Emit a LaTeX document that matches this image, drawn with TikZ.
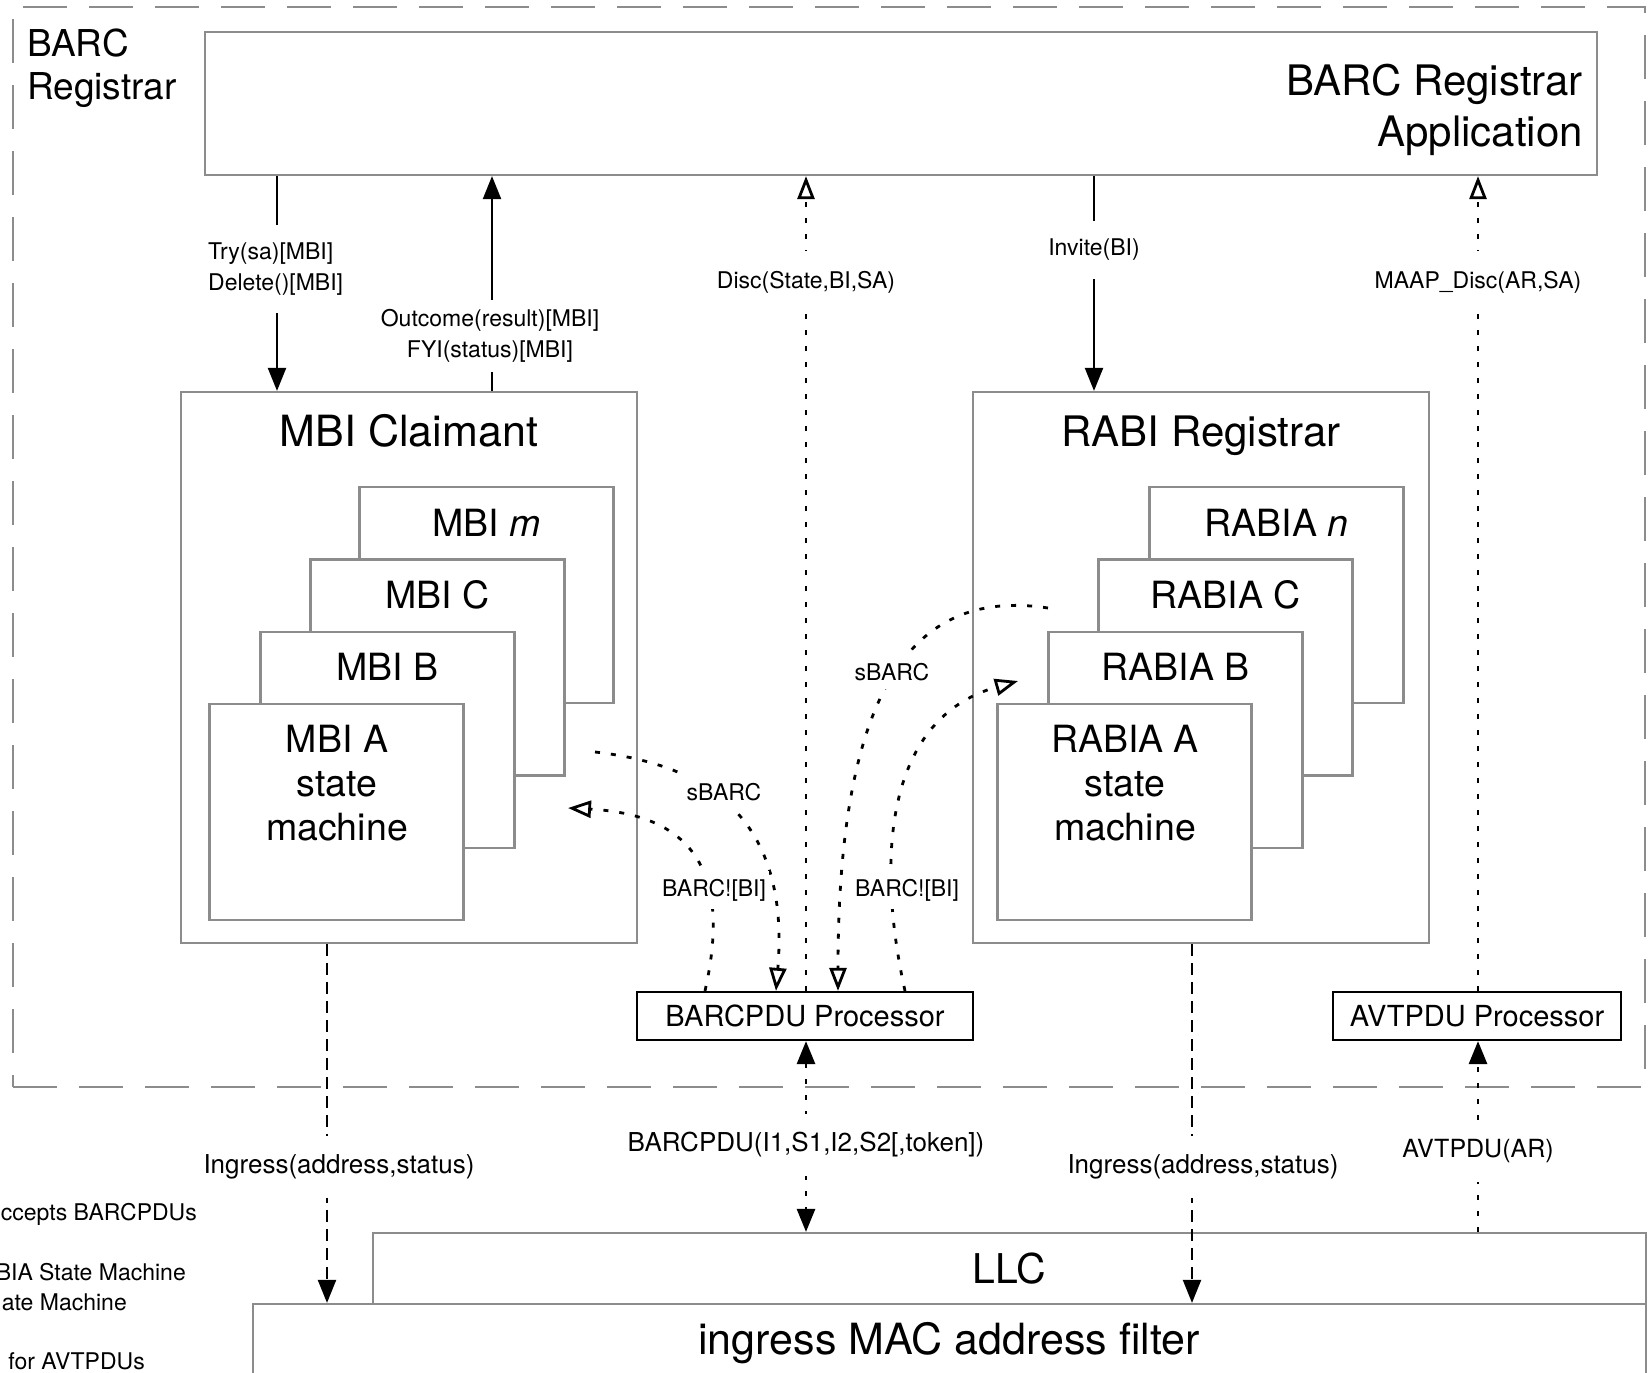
\documentclass[tikz,border=0pt]{standalone}
\usepackage{fontspec}
\setmainfont{TeX Gyre Heros}
\usetikzlibrary{arrows.meta}
\definecolor{boxgray}{RGB}{140,140,140}
\begin{document}
\begin{tikzpicture}[x=1pt,y=-1pt,
  gbox/.style={draw=boxgray,line width=2.2pt,fill=white,inner sep=0pt},
  pbox/.style={draw=black,line width=2.2pt,fill=white,inner sep=0pt},
  stackbox/.style={gbox,minimum width=254pt,minimum height=216pt},
  titletxt/.style={font=\fontsize{42}{51}\selectfont,inner sep=0pt},
  boxtxt/.style={font=\fontsize{37.5}{44}\selectfont,inner sep=0pt,align=center},
  proctxt/.style={font=\fontsize{29}{35}\selectfont},
  msg/.style={font=\fontsize{23}{30.5}\selectfont,fill=white,inner xsep=3pt,inner ysep=18pt},
  pdu/.style={font=\fontsize{26}{31}\selectfont,fill=white,inner xsep=3pt,inner ysep=19pt},
  curvelab/.style={font=\fontsize{23}{28}\selectfont,fill=white,inner xsep=3pt,inner ysep=8pt},
  legend/.style={font=\fontsize{23}{28}\selectfont,inner sep=0pt,anchor=east},
  solidarr/.style={line width=2.2pt,-{Triangle[length=23pt,width=18pt]}},
  dotline/.style={line width=2.8pt,dash pattern=on 5pt off 11pt},
  dashline/.style={line width=2.2pt,dash pattern=on 12pt off 7pt},
  filltip/.style={-{Triangle[length=23pt,width=18pt]}},
  opentip/.style={-{Triangle[open,length=23pt,width=17pt]}},
]
\useasboundingbox (0,0) rectangle (1649,1373);
\clip (0,0) rectangle (1649,1373);

% registrar boundary
\node[gbox,fill=none,dash pattern=on 44pt off 22pt,minimum width=1632pt,minimum height=1080pt] (reg) at (829,547) {};

% lower layers
\node[gbox,minimum width=1393pt,minimum height=116pt] (mac) at (949.5,1362) {};
\node[gbox,minimum width=1273pt,minimum height=71pt,font=\fontsize{41}{48}\selectfont] (llc) at (1009.5,1268.5) {LLC};
\node[inner sep=0pt,font=\fontsize{43}{50}\selectfont] (mactxt) at (949,1343) {ingress MAC address filter};

% application
\node[gbox,minimum width=1392pt,minimum height=143pt] (app) at (901,103.5) {};
\node[titletxt,anchor=east,align=right] (apptxt) at (1583,110) {BARC Registrar\\Application};
\node[inner sep=0pt,anchor=west,align=left,font=\fontsize{37}{43}\selectfont] (regtxt) at (27,68) {BARC\\Registrar};

% MBI claimant
\node[gbox,minimum width=456pt,minimum height=551pt] (claim) at (409,667.5) {};
\node[inner sep=0pt,font=\fontsize{43}{50}\selectfont] (claimtxt) at (409,431) {MBI Claimant};
\node[stackbox] (mbim) at (486.5,595) {};
\node[boxtxt] (mbimtxt) at (486.5,523) {MBI \textit{m}};
\node[stackbox] (mbic) at (437.5,667.5) {};
\node[boxtxt] (mbictxt) at (437.5,595) {MBI C};
\node[stackbox] (mbib) at (387.5,740) {};
\node[boxtxt] (mbibtxt) at (387.5,667) {MBI B};
\node[stackbox] (mbia) at (336.5,812) {};
\node[boxtxt] (mbiatxt) at (337,783) {MBI A\\state\\machine};

% RABI registrar
\node[gbox,minimum width=456pt,minimum height=551pt] (rabi) at (1201,667.5) {};
\node[inner sep=0pt,font=\fontsize{42}{50}\selectfont] (rabitxt) at (1201,436) {RABI Registrar};
\node[stackbox] (rabn) at (1276.5,595) {};
\node[boxtxt] (rabntxt) at (1276.5,523) {RABIA \textit{n}};
\node[stackbox] (rabc) at (1225.5,667.5) {};
\node[boxtxt] (rabctxt) at (1225.5,595) {RABIA C};
\node[stackbox] (rabb) at (1175.5,740) {};
\node[boxtxt] (rabbtxt) at (1175.5,667) {RABIA B};
\node[stackbox] (raba) at (1124.5,812) {};
\node[boxtxt] (rabatxt) at (1125,783) {RABIA A\\state\\machine};

% PDU processors
\node[pbox,proctxt,minimum width=336pt,minimum height=48pt] (bproc) at (805,1016) {BARCPDU Processor};
\node[pbox,proctxt,minimum width=288pt,minimum height=48pt] (aproc) at (1477,1016) {AVTPDU Processor};

% connector columns
\coordinate (xtry) at (277,0);
\coordinate (xout) at (492,0);
\coordinate (xdisc) at (806,0);
\coordinate (xinv) at (1094,0);
\coordinate (xmaap) at (1478,0);
\coordinate (xingl) at (327,0);
\coordinate (xingr) at (1192,0);

\draw[solidarr] (app.south -| xtry) -- (claim.north -| xtry);
\draw[solidarr] (claim.north -| xout) -- (app.south -| xout);
\draw[dotline,opentip] (bproc.north -| xdisc) -- (app.south -| xdisc);
\draw[solidarr] (app.south -| xinv) -- (rabi.north -| xinv);
\draw[dotline,opentip] (aproc.north -| xmaap) -- (app.south -| xmaap);
\draw[dashline,filltip] (claim.south -| xingl) -- (mac.north -| xingl);
\draw[dashline,filltip] (rabi.south -| xingr) -- (mac.north -| xingr);
\draw[dotline,{Triangle[length=23pt,width=18pt]}-{Triangle[length=23pt,width=18pt]}] (bproc.south -| xdisc) -- (llc.north -| xdisc);
\draw[dotline,filltip] (llc.north -| xmaap) -- (aproc.south -| xmaap);

% sBARC / BARC! exchanges
\coordinate (c1s) at (595,752);
\coordinate (c1e) at (776,0);
\draw[dotline,opentip] (c1s) .. controls (710,765) and (790,820) .. (bproc.north -| c1e);
\coordinate (c2s) at (705,0);
\coordinate (c2e) at (568,808);
\draw[dotline,opentip] (bproc.north -| c2s) .. controls (730,880) and (700,815) .. (c2e);
\coordinate (c3s) at (1048,608);
\coordinate (c3e) at (838,0);
\draw[dotline,opentip] (c3s) .. controls (930,590) and (838,660) .. (bproc.north -| c3e);
\coordinate (c4s) at (905,0);
\coordinate (c4e) at (1018,681);
\draw[dotline,opentip] (bproc.north -| c4s) .. controls (878,870) and (880,720) .. (c4e);

% message labels
\node[msg,align=left,anchor=west] (trylab) at (205,269) {Try(sa)[MBI]\\Delete()[MBI]};
\node[msg,align=center,inner ysep=10pt] (outlab) at (490,336) {Outcome(result)[MBI]\\FYI(status)[MBI]};
\node[msg,inner ysep=20pt] (disclab) at (806,282) {Disc(State,BI,SA)};
\node[msg] (invlab) at (1094,250) {Invite(BI)};
\node[msg,inner ysep=20pt] (maaplab) at (1478,282) {MAAP\_Disc(AR,SA)};
\node[pdu] (inglab) at (339,1167) {Ingress(address,status)};
\node[pdu] (ingrlab) at (1203,1167) {Ingress(address,status)};
\node[pdu] (barclab) at (806,1145) {BARCPDU(I1,S1,I2,S2[,token])};
\node[pdu,font=\fontsize{25}{30}\selectfont] (avtlab) at (1478,1151) {AVTPDU(AR)};
\node[curvelab] (sbarc1) at (892,672) {sBARC};
\node[curvelab] (sbarc2) at (724,792) {sBARC};
\node[curvelab] (barcl) at (714,890) {BARC![BI]};
\node[curvelab] (barcr) at (907,890) {BARC![BI]};

% legend fragments at the left edge
\node[legend] (lg1) at (197,1214) {ccepts BARCPDUs};
\node[legend] (lg2) at (186,1272.5) {BIA State Machine};
\node[legend] (lg3) at (127,1302) {ate Machine};
\node[legend] (lg4) at (145,1361) {for AVTPDUs};
\end{tikzpicture}
\end{document}
